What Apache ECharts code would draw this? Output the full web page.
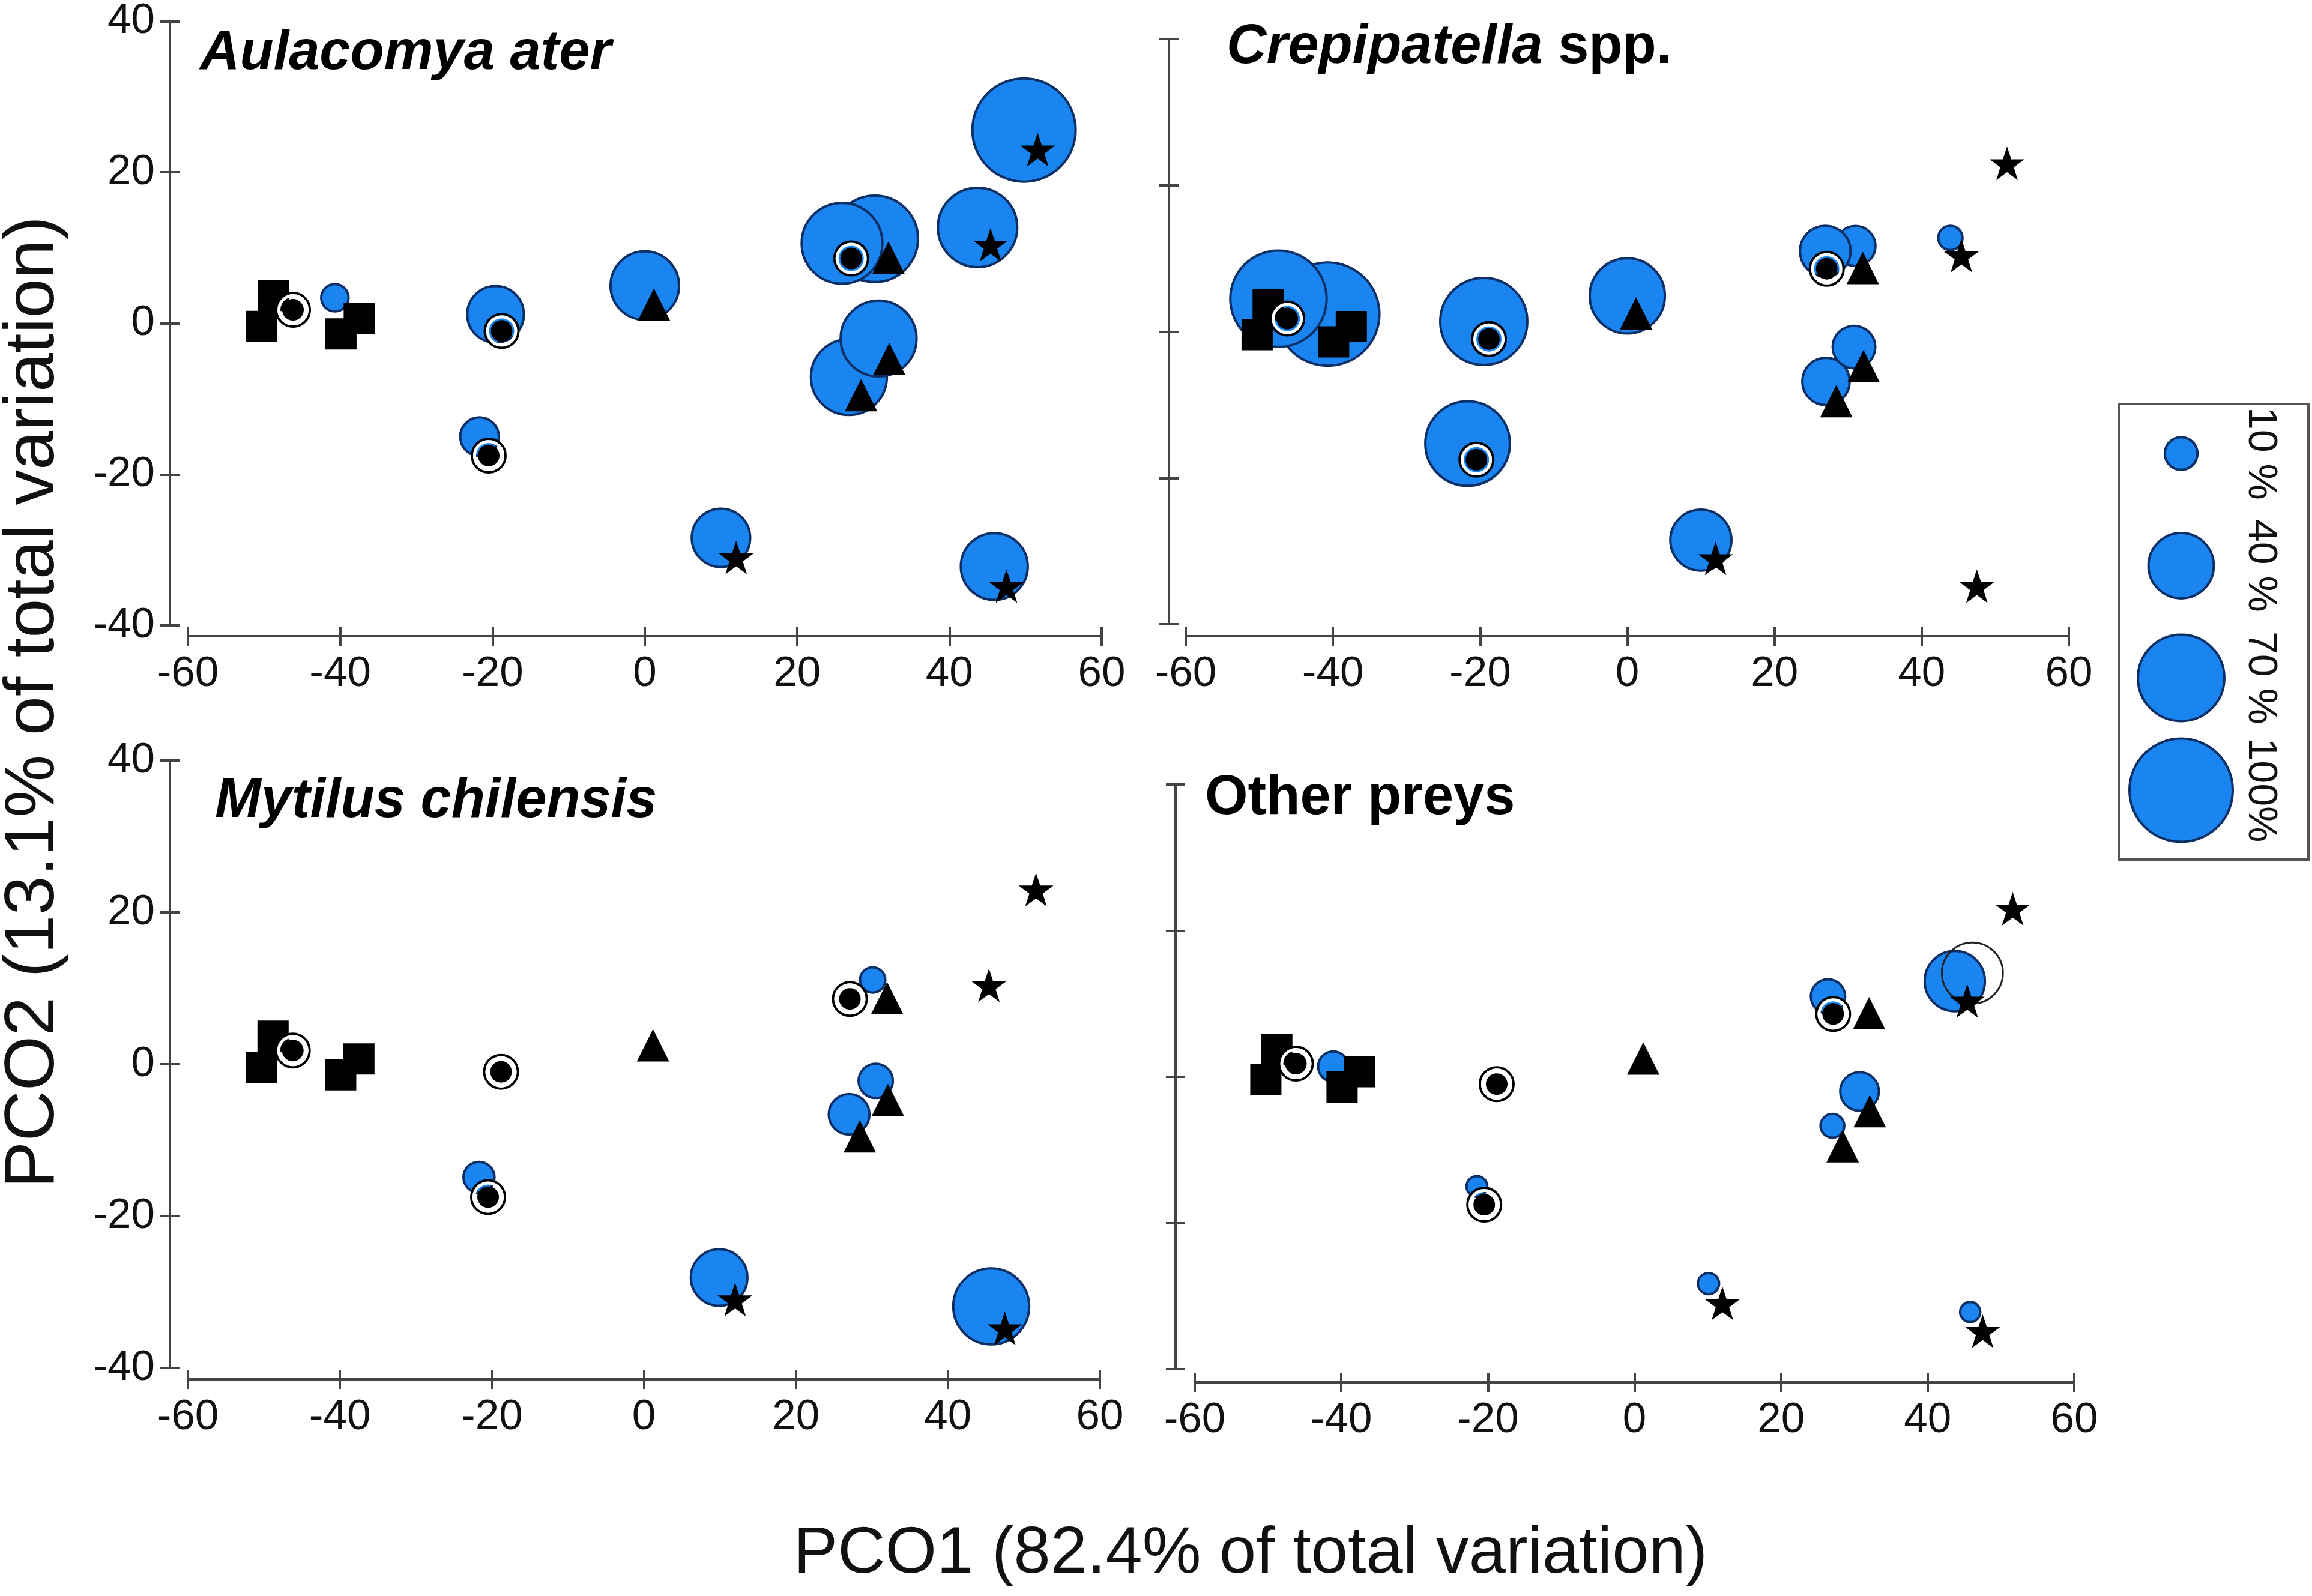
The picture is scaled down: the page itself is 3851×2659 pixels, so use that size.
<!DOCTYPE html>
<html>
<head>
<meta charset="utf-8">
<script src="https://cdn.jsdelivr.net/npm/echarts@6/dist/echarts.min.js"></script>
<style>
    html, body { margin: 0; padding: 0; background: #fff; }
    #main { width: 3851px; height: 2659px; }
</style>
</head>
<body>
<div id="main"></div>
<script>
    // sample positions on PCO1 / PCO2, same in every panel
    var squares = [[-50.3, -0.4], [-48.8, 3.7], [-39.9, -1.4], [-37.5, 0.7]];
    var rings = [[-46.2, 1.8], [-18.8, -1.0], [-20.5, -17.5], [27.1, 8.6]];
    var triangles = [[1.2, 2.5], [32.0, 8.7], [32.1, -4.7], [28.4, -9.5]];
    var stars = [[51.6, 23.0], [45.4, 10.4], [12.0, -31.0], [47.5, -34.8]];

    // bubbles: [PCO1, PCO2, % of prey]
    var aulacomya = [
        [30.2, 11.2, 70], [25.9, 10.6, 61], [49.8, 25.6, 100], [43.7, 12.7, 59],
        [26.8, -7.1, 54], [30.7, -2.0, 54], [0.0, 5.0, 44], [-19.6, 1.2, 30],
        [-21.7, -15.0, 14], [-40.7, 3.4, 7], [10.0, -28.4, 32], [45.9, -32.2, 42]
    ];
    var crepipatella = [
        [-40.7, 2.4, 100], [-47.4, 4.5, 87], [-19.5, 1.4, 71], [-21.7, -15.3, 67],
        [0.0, 4.9, 53], [31.0, 11.7, 15], [26.9, 11.0, 24], [43.9, 12.8, 5.5],
        [27.0, -6.8, 21], [30.8, -2.1, 17], [10.0, -28.5, 35]
    ];
    var mytilus = [
        [30.1, 11.1, 6], [30.5, -2.2, 11], [27.0, -6.6, 15.5],
        [-21.7, -14.9, 9], [9.9, -28.1, 30], [45.7, -31.9, 54]
    ];
    var otherPreys = [
        [-41.1, 1.4, 8.6], [-21.5, -15.0, 4], [26.4, 11.0, 11], [30.7, -2.0, 14],
        [27.0, -6.7, 5.3], [43.7, 13.1, 34], [10.1, -28.3, 4.2], [45.8, -32.2, 3.8]
    ];
    var otherPreysOpen = [[46.1, 14.2, 35]];

    var legendPct = [10, 40, 70, 100];
    var legendLabels = ['10 %', '40 %', '70 %', '100%'];

    var FONT = 'Liberation Sans, Arial, sans-serif';
    var axisColor = '#444';
    var blue = '#1a84f0';
    var navy = '#0c2f66';
    var starPath = 'path://M50,0 L61.8,35.1 L98.9,35.1 L68.9,57.3 L80.3,92.7 L50,70.8 L19.7,92.7 L31.1,57.3 L1.1,35.1 L38.2,35.1 Z';

    var panels = [
        { grid: { left: 313, top: 27, width: 1522, height: 1015 }, yOff: 30, xOff: 18, yLabels: true, bubbles: aulacomya },
        { grid: { left: 1975, top: 65, width: 1471, height: 975 }, yOff: 28, xOff: 20, yLabels: false, bubbles: crepipatella },
        { grid: { left: 313, top: 1267, width: 1519, height: 1012 }, yOff: 30, xOff: 19, yLabels: true, bubbles: mytilus },
        { grid: { left: 1990, top: 1307, width: 1465, height: 974 }, yOff: 32, xOff: 22, yLabels: false, bubbles: otherPreys }
    ];

    function bubbleSize(val) {
        return 17.2 * Math.sqrt(val[2]);
    }

    function makeAxis(dim, gridIndex, off, inside, labels) {
        var ax = {
            type: 'value',
            gridIndex: gridIndex,
            position: dim === 'x' ? 'bottom' : 'left',
            offset: off,
            axisLine: { show: !inside, onZero: false, lineStyle: { color: axisColor, width: 4 } },
            axisTick: { show: true, inside: inside, length: 16, lineStyle: { color: axisColor, width: 4 } },
            axisLabel: { show: !inside && labels, fontSize: 71, color: '#111', fontFamily: FONT, margin: dim === 'x' ? 28 : 25 },
            splitLine: { show: false }
        };
        if (dim === 'x') { ax.min = -60; ax.max = 60; ax.interval = 20; }
        else { ax.min = -40; ax.max = 40; ax.interval = 20; }
        return ax;
    }

    var grids = [], xAxes = [], yAxes = [], series = [];

    panels.forEach(function (p, i) {
        grids.push(p.grid);
        xAxes.push(makeAxis('x', i, p.xOff, false, true));
        xAxes.push(makeAxis('x', i, p.xOff, true, false));
        yAxes.push(makeAxis('y', i, p.yOff, false, p.yLabels));
        yAxes.push(makeAxis('y', i, p.yOff, true, false));

        var ax = { xAxisIndex: 2 * i, yAxisIndex: 2 * i, type: 'scatter', silent: true, animation: false };
        function s(extra) { return Object.assign({}, ax, extra); }

        series.push(s({
            data: p.bubbles, symbol: 'circle', symbolSize: bubbleSize,
            itemStyle: { color: blue, borderColor: navy, borderWidth: 4, opacity: 1 }
        }));
        if (i === 3) {
            series.push(s({
                data: otherPreysOpen, symbol: 'circle', symbolSize: bubbleSize,
                itemStyle: { color: 'rgba(0,0,0,0)', borderColor: '#222', borderWidth: 3, opacity: 1 }
            }));
        }
        series.push(s({ data: squares, symbol: 'rect', symbolSize: 52, itemStyle: { color: '#000', opacity: 1 } }));
        series.push(s({ data: triangles, symbol: 'triangle', symbolSize: [54, 54], itemStyle: { color: '#000', opacity: 1 } }));
        series.push(s({ data: stars, symbol: starPath, symbolSize: [58, 56], itemStyle: { color: '#000', opacity: 1 } }));
        series.push(s({ data: rings, symbol: 'circle', symbolSize: 56, itemStyle: { color: 'rgba(0,0,0,0)', borderColor: '#000', borderWidth: 4, opacity: 1 } }));
        series.push(s({ data: rings, symbol: 'circle', symbolSize: 47, itemStyle: { color: 'rgba(0,0,0,0)', borderColor: '#fff', borderWidth: 5, opacity: 1 } }));
        series.push(s({ data: rings, symbol: 'circle', symbolSize: 36, itemStyle: { color: '#000', opacity: 1 } }));
    });

    // size legend
    grids.push({ left: 3553, top: 662, width: 160, height: 748 });
    xAxes.push({ type: 'value', gridIndex: 4, min: 0, max: 1, show: false });
    yAxes.push({
        type: 'category', gridIndex: 4, data: legendLabels, inverse: true, position: 'right',
        axisLine: { show: false }, axisTick: { show: false }, splitLine: { show: false },
        axisLabel: { interval: 0, rotate: -90, fontSize: 68, color: '#111', fontFamily: FONT, margin: 18 }
    });
    series.push({
        type: 'scatter', xAxisIndex: 8, yAxisIndex: 8, silent: true, animation: false,
        data: legendPct.map(function (v, i) { return [0.5, i, v]; }),
        symbol: 'circle', symbolSize: bubbleSize,
        itemStyle: { color: blue, borderColor: navy, borderWidth: 4, opacity: 1 }
    });

    var titleStyle = { fontSize: 92, fontWeight: 'bold', fontStyle: 'italic', color: '#000', fontFamily: FONT };

    var option = {
        backgroundColor: '#fff',
        animation: false,
        grid: grids,
        xAxis: xAxes,
        yAxis: yAxes,
        title: [
            { text: 'Aulacomya ater', left: 333, top: 44, padding: 0, textStyle: titleStyle },
            {
                text: '{i|Crepipatella} {n|spp.}', left: 2043, top: 34, padding: 0,
                textStyle: {
                    fontSize: 92, fontFamily: FONT, color: '#000',
                    rich: {
                        i: { fontSize: 92, fontWeight: 'bold', fontStyle: 'italic', fontFamily: FONT, color: '#000' },
                        n: { fontSize: 92, fontWeight: 'bold', fontFamily: FONT, color: '#000' }
                    }
                }
            },
            { text: 'Mytilus chilensis', left: 358, top: 1290, padding: 0, textStyle: titleStyle },
            { text: 'Other preys', left: 2007, top: 1285, padding: 0, textStyle: { fontSize: 92, fontWeight: 'bold', color: '#000', fontFamily: FONT } }
        ],
        graphic: [
            {
                type: 'rect', shape: { x: 3530, y: 673, width: 315, height: 759 }, z: 0,
                style: { fill: 'none', stroke: '#555', lineWidth: 4 }
            },
            {
                type: 'text', x: 2083, y: 2590,
                style: { text: 'PCO1 (82.4% of total variation)', font: '110px ' + FONT, fill: '#111', textAlign: 'center', textVerticalAlign: 'middle' }
            },
            {
                type: 'text', x: 57, y: 1170, rotation: Math.PI / 2,
                style: { text: 'PCO2 (13.1% of total variation)', font: '117px ' + FONT, fill: '#111', textAlign: 'center', textVerticalAlign: 'middle' }
            }
        ],
        series: series
    };

    var myChart = echarts.init(document.getElementById('main'));
    myChart.setOption(option);
</script>
</body>
</html>
